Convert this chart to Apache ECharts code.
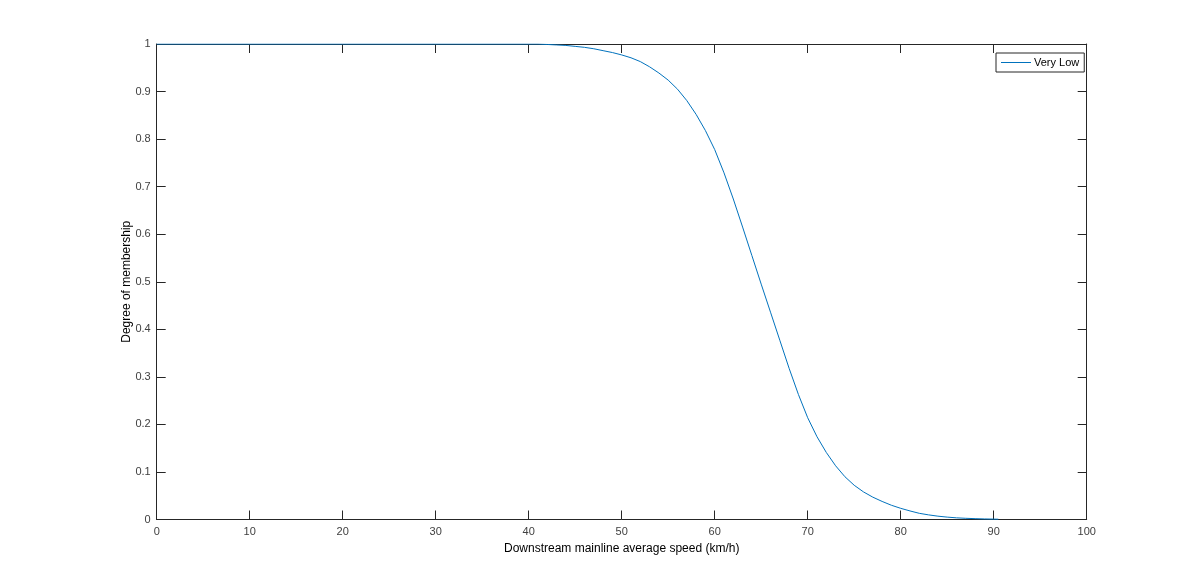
<!DOCTYPE html>
<html>
<head>
<meta charset="utf-8">
<script src="https://cdn.jsdelivr.net/npm/echarts@6/dist/echarts.min.js"></script>
<style>html,body{margin:0;padding:0;background:#fff}#c{width:1200px;height:584px}</style>
</head>
<body>
<div id="c"></div>
<script>
var seriesName = 'Very Low';
var xTitle = 'Downstream mainline average speed (km/h)';
var yTitle = 'Degree of membership';
var speeds = [0, 10, 20, 30, 40, 41, 42, 43, 44, 45, 46, 47, 48, 49, 50, 51, 52, 53, 54, 55, 56, 57, 58, 59, 60, 61, 62, 63, 64, 65, 66, 67, 68, 69, 70, 71, 72, 73, 74, 75, 76, 77, 78, 79, 80, 81, 82, 83, 84, 85, 86, 87, 88, 89, 90, 90.5];
var membership = [1, 1, 1, 1, 1, 1, 0.999, 0.998, 0.997, 0.995, 0.993, 0.990, 0.986, 0.982, 0.977, 0.971, 0.963, 0.952, 0.939, 0.924, 0.905, 0.881, 0.852, 0.818, 0.778, 0.729, 0.674, 0.615, 0.555, 0.495, 0.436, 0.377, 0.318, 0.263, 0.214, 0.174, 0.141, 0.113, 0.090, 0.072, 0.058, 0.047, 0.038, 0.030, 0.0235, 0.018, 0.013, 0.0097, 0.007, 0.005, 0.0035, 0.0025, 0.0018, 0.0012, 0.0008, 0.0006];

var pts = speeds.map(function (x, i) { return [x, membership[i]]; });
var axisColor = '#262626';
var labelColor = '#404040';
var font = 'Liberation Sans, Arial, Helvetica, sans-serif';
var chart = echarts.init(document.getElementById('c'));
chart.setOption({
  animation: false,
  backgroundColor: '#fff',
  grid: { left: 156.7, right: 113.3, top: 44, bottom: 64.5, show: false },
  legend: {
    show: true,
    data: [seriesName],
    left: 996, top: 53,
    orient: 'vertical',
    icon: 'rect',
    itemWidth: 30, itemHeight: 1,
    itemGap: 0,
    padding: [4, 5, 4, 5],
    borderColor: axisColor, borderWidth: 1, borderRadius: 0,
    backgroundColor: '#fff',
    textStyle: { color: '#000', fontSize: 11, fontFamily: font, padding: [0, 0, 0, -2] }
  },
  xAxis: [{
    type: 'value', min: 0, max: 100, interval: 10,
    name: xTitle, nameLocation: 'middle', nameGap: 22,
    nameTextStyle: { color: '#000', fontSize: 12, fontFamily: font },
    axisLine: { show: true, onZero: false, lineStyle: { color: axisColor, width: 1 } },
    axisTick: { show: true, inside: true, length: 9, lineStyle: { color: axisColor } },
    axisLabel: { color: labelColor, fontSize: 11, fontFamily: font, margin: 7 },
    splitLine: { show: false }
  }, {
    type: 'value', min: 0, max: 100, interval: 10, position: 'top',
    axisLine: { show: true, onZero: false, lineStyle: { color: axisColor, width: 1 } },
    axisTick: { show: true, inside: true, length: 9, lineStyle: { color: axisColor } },
    axisLabel: { show: false }, splitLine: { show: false }
  }],
  yAxis: [{
    type: 'value', min: 0, max: 1, interval: 0.1,
    name: yTitle, nameLocation: 'middle', nameGap: 24, nameMoveOverlap: false,
    nameTextStyle: { color: '#000', fontSize: 12, fontFamily: font },
    axisLine: { show: true, onZero: false, lineStyle: { color: axisColor, width: 1 } },
    axisTick: { show: true, inside: true, length: 9, lineStyle: { color: axisColor } },
    axisLabel: { color: labelColor, fontSize: 11, fontFamily: font, margin: 6,
      formatter: function (v) { return String(Math.round(v * 10) / 10); } },
    splitLine: { show: false }
  }, {
    type: 'value', min: 0, max: 1, interval: 0.1, position: 'right',
    axisLine: { show: true, onZero: false, lineStyle: { color: axisColor, width: 1 } },
    axisTick: { show: true, inside: true, length: 9, lineStyle: { color: axisColor } },
    axisLabel: { show: false }, splitLine: { show: false }
  }],
  series: [{
    name: seriesName,
    type: 'line',
    data: pts,
    xAxisIndex: 0, yAxisIndex: 0,
    showSymbol: false, symbol: 'none',
    smooth: false,
    lineStyle: { color: '#0072BD', width: 1 },
    itemStyle: { color: '#0072BD' }
  }]
});
</script>
</body>
</html>
